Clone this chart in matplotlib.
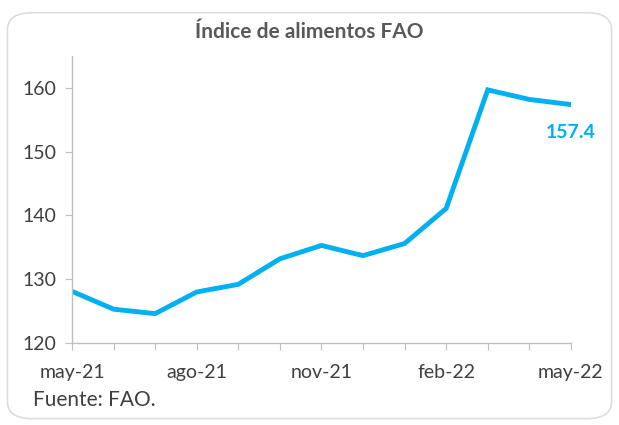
import matplotlib.pyplot as plt
from matplotlib.patches import FancyBboxPatch

# data
months = ["may-21", "jun-21", "jul-21", "ago-21", "sep-21", "oct-21", "nov-21",
          "dic-21", "ene-22", "feb-22", "mar-22", "abr-22", "may-22"]
fao_index = [128.1, 125.3, 124.6, 128.0, 129.2, 133.2, 135.3,
             133.7, 135.6, 141.1, 159.7, 158.2, 157.4]
y_ticks = [120, 130, 140, 150, 160]

BLUE = "#00B0F0"
TXT = "#404040"

plt.rcParams["font.family"] = ["Lato", "DejaVu Sans"]

fig = plt.figure(figsize=(6.19, 4.25), dpi=100)

# rounded frame around the chart
frame = FancyBboxPatch((0.012, 0.015), 0.976, 0.955, boxstyle="round,pad=0,rounding_size=0.04",
                       transform=fig.transFigure, facecolor="white",
                       edgecolor="#DDDDDD", linewidth=1.2, zorder=-1)
fig.patches.append(frame)

ax = fig.add_axes([0.1163, 0.193, 0.806, 0.675])
ax.set_facecolor("none")
x = list(range(len(months)))
ax.plot(x, fao_index, color=BLUE, linewidth=3.5, solid_joinstyle="miter")

ax.set_xlim(0, len(months) - 1)
ax.set_ylim(120, 165)
ax.set_yticks(y_ticks)
ax.set_xticks(x)
ax.set_xticklabels([m if i % 3 == 0 else "" for i, m in enumerate(months)])

for s in ["top", "right"]:
    ax.spines[s].set_visible(False)
for s in ["left", "bottom"]:
    ax.spines[s].set_color("#BFBFBF")
    ax.spines[s].set_linewidth(1.0)
ax.tick_params(axis="both", colors="#BFBFBF", labelcolor=TXT, labelsize=14, length=5)
ax.tick_params(axis="x", pad=10)
ax.tick_params(axis="y", pad=6)

ax.text(x[-1], 153.0, f"{fao_index[-1]:.1f}", color=BLUE, fontsize=14,
        fontweight="bold", ha="center", va="center")

fig.text(0.5, 0.925, "Índice de alimentos FAO", ha="center", va="center",
         fontsize=15, fontweight="bold", color="#595959")
fig.text(0.053, 0.06, "Fuente: FAO.", ha="left", va="center", fontsize=15, color=TXT)

fig.savefig("out.png", dpi=100)
